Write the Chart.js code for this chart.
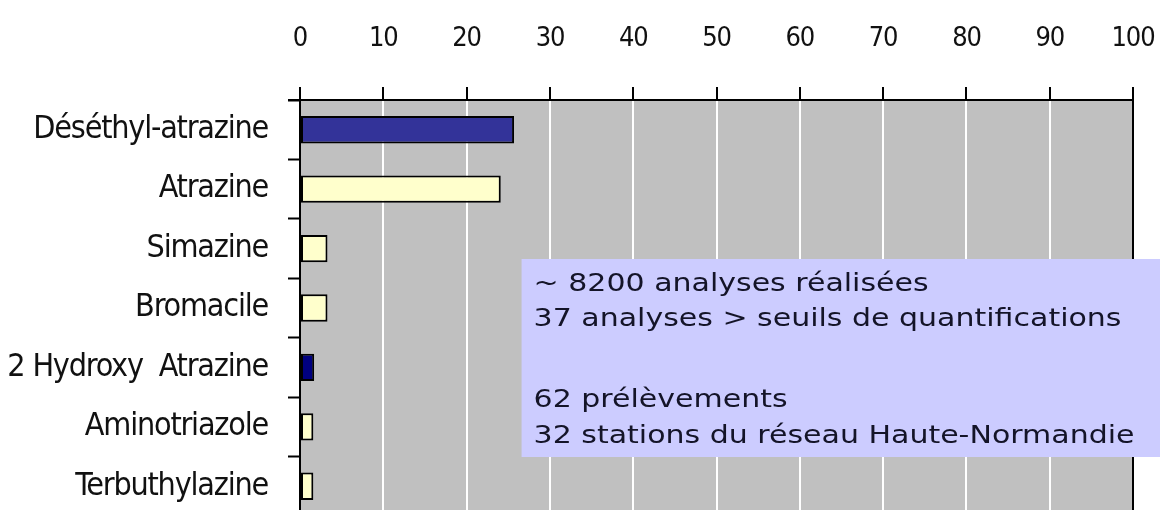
<!DOCTYPE html>
<html>
<head>
<meta charset="utf-8">
<script src="https://cdn.jsdelivr.net/npm/chart.js@4"></script>
<style>
  html, body { margin: 0; padding: 0; background: #fff; overflow: hidden; }
  #wrap { position: relative; width: 1160px; height: 516px; }
</style>
</head>
<body>
<div id="wrap"><canvas id="chart"></canvas></div>
<script>
// Molécules quantifiées (%), lecture sur le graphique
const molecules = ['Déséthyl-atrazine', 'Atrazine', 'Simazine', 'Bromacile', '2 Hydroxy  Atrazine', 'Aminotriazole', 'Terbuthylazine'];
const pourcentages = [25.7, 24.1, 3.3, 3.3, 1.7, 1.6, 1.6];
const couleurs = ['#333399', '#FFFFCC', '#FFFFCC', '#FFFFCC', '#000080', '#FFFFCC', '#FFFFCC'];
const xTicks = [0, 10, 20, 30, 40, 50, 60, 70, 80, 90, 100];
const encadre = [
  '~ 8200 analyses réalisées',
  '37 analyses > seuils de quantifications',
  '',
  '62 prélèvements',
  '32 stations du réseau Haute-Normandie',
];

const NARROW = "'Liberation Sans Narrow', 'Arial Narrow', 'DejaVu Sans Condensed', sans-serif";

// fond gris de la zone de tracé (+ texte des axes un peu resserré)
const plotBg = {
  id: 'plotBg',
  beforeDraw(chart) {
    const { ctx, chartArea: a } = chart;
    ctx.letterSpacing = '-1.2px';
    ctx.save();
    ctx.fillStyle = '#C0C0C0';
    ctx.fillRect(a.left, a.top, a.right - a.left, a.bottom - a.top);
    ctx.restore();
  },
};

// prolongement de l'axe du haut + encadré texte
const boxNote = {
  id: 'boxNote',
  afterDraw(chart) {
    const { ctx, chartArea: a } = chart;
    ctx.save();
    ctx.letterSpacing = '0px';
    ctx.strokeStyle = '#000';
    ctx.lineWidth = 2;
    ctx.beginPath();
    ctx.moveTo(a.left - 12, a.top);
    ctx.lineTo(a.left, a.top);
    ctx.stroke();

    const x = chart.scales.x.getPixelForValue(26.6);
    const top = a.top + 159, bottom = a.top + 357;
    ctx.fillStyle = '#CCCCFF';
    ctx.fillRect(x, top, chart.width - x, bottom - top);

    ctx.fillStyle = '#141428';
    ctx.font = "25px 'DejaVu Sans', Verdana, sans-serif";
    ctx.textBaseline = 'middle';
    const lineY = [184, 219, 0, 300, 336];
    encadre.forEach((t, i) => {
      if (!t) return;
      ctx.save();
      ctx.translate(x + 12, a.top + lineY[i]);
      ctx.scale(1.2, 1);
      ctx.fillText(t, 0, 0);
      ctx.restore();
    });
    ctx.restore();
  },
};

const noPad = s => { s.paddingLeft = 0; s.paddingRight = 0; s.paddingTop = 0; s.paddingBottom = 0; };

new Chart(document.getElementById('chart'), {
  type: 'bar',
  data: {
    labels: molecules,
    datasets: [{
      data: pourcentages,
      backgroundColor: couleurs,
      borderColor: '#000',
      borderWidth: 2,
      borderSkipped: false,
      categoryPercentage: 1,
      barPercentage: 0.46,
    }],
  },
  options: {
    indexAxis: 'y',
    animation: false, responsive: true, maintainAspectRatio: false,
    layout: { padding: { top: 0, right: 27, bottom: 0, left: 0 } },
    plugins: { legend: { display: false }, tooltip: { enabled: false } },
    scales: {
      x: {
        position: 'top', min: 0, max: 100,
        afterBuildTicks: s => { s.ticks = xTicks.map(v => ({ value: v })); },
        afterFit: s => { s.height = 100; noPad(s); },
        ticks: { color: '#111', padding: 32, font: { family: NARROW, size: 27 } },
        grid: {
          color: c => (c.tick && c.tick.value === 100 ? '#000' : '#fff'),
          lineWidth: 2, tickColor: '#000', tickWidth: 2, tickLength: 13,
        },
        border: { display: true, color: '#000', width: 2 },
      },
      y: {
        afterFit: s => { s.width = 300; noPad(s); },
        ticks: { color: '#111', padding: 20, font: { family: NARROW, size: 32 } },
        grid: { offset: true, drawOnChartArea: false, tickColor: '#000', tickWidth: 2, tickLength: 12 },
        border: { display: true, color: '#000', width: 2 },
      },
    },
  },
  plugins: [plotBg, boxNote],
});
</script>
</body>
</html>
